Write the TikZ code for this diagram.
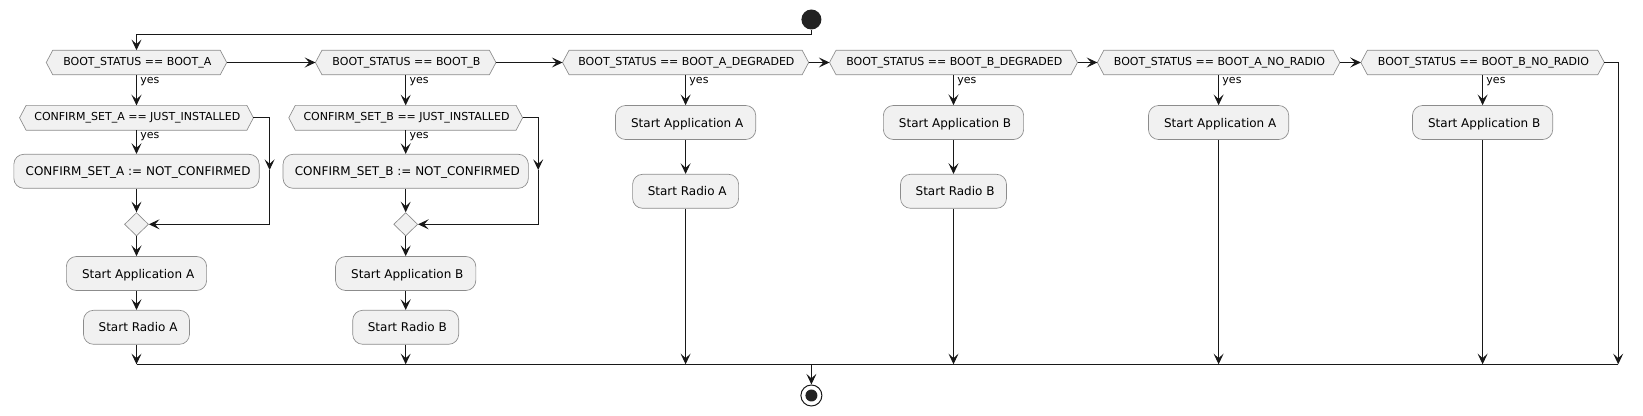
\documentclass[tikz,border=0pt]{standalone}
\usepackage{fontspec}
\setmainfont{DejaVu Sans}
\usetikzlibrary{arrows.meta,shapes.geometric,backgrounds}
\definecolor{boxfill}{HTML}{F1F1F1}
\definecolor{boxdraw}{HTML}{8C8C8C}
\definecolor{linecol}{HTML}{181818}
\definecolor{dotcol}{HTML}{222222}
\newcommand\hexbg[1]{\filldraw[hexbgstyle] (#1.west) -- ([xshift=4.9pt]#1.north west) -- ([xshift=-4.9pt]#1.north east) -- (#1.east) -- ([xshift=-4.9pt]#1.south east) -- ([xshift=4.9pt]#1.south west) -- cycle;}
\tikzset{
  hexnode/.style={rectangle, inner sep=0pt, minimum height=18pt, font=\fontsize{8.25pt}{10pt}\selectfont, execute at begin node={\hspace*{1.2pt}}},
  hexbgstyle/.style={fill=boxfill, draw=boxdraw, line width=0.5pt, line join=miter},
  actbox/.style={rectangle, rounded corners=7.5pt, fill=boxfill, draw=boxdraw, line width=0.5pt, inner sep=0pt, minimum height=25.5pt, text depth=0pt, font=\fontsize{9pt}{11pt}\selectfont, execute at begin node={\hspace*{2.4pt}}},
  mergenode/.style={diamond, fill=boxfill, draw=boxdraw, line width=0.5pt, inner sep=0pt, minimum width=18pt, minimum height=17.5pt},
  flow/.style={draw=linecol, line width=0.75pt, -{Stealth[length=8pt,width=7.5pt,inset=3.4pt]}},
  plainline/.style={draw=linecol, line width=0.75pt},
  yeslab/.style={font=\fontsize{8.25pt}{10pt}\selectfont, anchor=base west, inner sep=0pt},
  startnode/.style={circle, fill=dotcol, inner sep=0pt, minimum size=15pt},
  endnode/.style={circle, draw=linecol, fill=white, line width=0.75pt, inner sep=0pt, minimum size=15.75pt},
  endin/.style={circle, fill=dotcol, inner sep=0pt, minimum size=9pt},
}
\begin{document}
\begin{tikzpicture}[x=0.75pt,y=-0.75pt]
\useasboundingbox (0,0) rectangle (1643,416);

% start
\node[startnode] (start) at (811.4,19.5) {};

% top row of decisions
\node[hexnode, minimum width=135pt] (d1) at (136.5,62.5) {BOOT\_STATUS == BOOT\_A};
\node[hexnode, minimum width=135pt] (d2) at (405.7,62.5) {BOOT\_STATUS == BOOT\_B};
\node[hexnode, minimum width=184.2pt] (d3) at (685.6,62.5) {BOOT\_STATUS == BOOT\_A\_DEGRADED};
\node[hexnode, minimum width=185.6pt] (d4) at (953.5,62.5) {BOOT\_STATUS == BOOT\_B\_DEGRADED};
\node[hexnode, minimum width=181.5pt] (d5) at (1218.6,62.5) {BOOT\_STATUS == BOOT\_A\_NO\_RADIO};
\node[hexnode, minimum width=182.2pt] (d6) at (1482.6,62.5) {BOOT\_STATUS == BOOT\_B\_NO\_RADIO};

% column 1
\node[hexnode, minimum width=175pt, minimum height=18.2pt] (cA) at (136.5,117.8) {CONFIRM\_SET\_A == JUST\_INSTALLED};
\node[actbox, minimum width=184pt] (sA) at (136.5,171.3) {CONFIRM\_SET\_A := NOT\_CONFIRMED};
\node[mergenode] (mA) at (136.5,224.3) {};
\node[actbox, minimum width=105.2pt] (app1) at (136.5,273.5) {Start Application A};
\node[actbox, minimum width=79.5pt] (rad1) at (136.5,327.3) {Start Radio A};

% column 2
\node[hexnode, minimum width=175pt, minimum height=18.2pt] (cB) at (405.7,117.8) {CONFIRM\_SET\_B == JUST\_INSTALLED};
\node[actbox, minimum width=184pt] (sB) at (405.7,171.3) {CONFIRM\_SET\_B := NOT\_CONFIRMED};
\node[mergenode] (mB) at (405.7,224.3) {};
\node[actbox, minimum width=105.2pt] (app2) at (405.7,273.5) {Start Application B};
\node[actbox, minimum width=79.5pt] (rad2) at (405.7,327.3) {Start Radio B};

% column 3
\node[actbox, minimum width=105.2pt] (app3) at (685.6,122.5) {Start Application A};
\node[actbox, minimum width=79.5pt] (rad3) at (685.6,191.3) {Start Radio A};

% column 4
\node[actbox, minimum width=105.2pt] (app4) at (953.5,122.5) {Start Application B};
\node[actbox, minimum width=79.5pt] (rad4) at (953.5,191.3) {Start Radio B};

% column 5, 6
\node[actbox, minimum width=105.2pt] (app5) at (1218.6,122.5) {Start Application A};
\node[actbox, minimum width=105.2pt] (app6) at (1482.6,122.5) {Start Application B};

% end
\node[endnode] (end) at (811.4,395.5) {};
\node[endin] (endc) at (end.center) {};

% hexagon outlines
\begin{scope}[on background layer]
\hexbg{d1}\hexbg{d2}\hexbg{d3}\hexbg{d4}\hexbg{d5}\hexbg{d6}\hexbg{cA}\hexbg{cB}
\end{scope}

% coordinates
\coordinate (topL) at (136.5,35);
\coordinate (rt) at (1618.2,62.5);
\coordinate (rb) at (1618.2,364.3);
\coordinate (b1) at (136.5,364.3);
\coordinate (b2) at (405.7,364.3);
\coordinate (b3) at (685.6,364.3);
\coordinate (b4) at (953.5,364.3);
\coordinate (b5) at (1218.6,364.3);
\coordinate (b6) at (1482.6,364.3);
\coordinate (bm) at (811.4,364.3);
\coordinate (cAr) at (269.6,170);
\coordinate (cBr) at (538.2,170);

% start to first decision
\draw[flow] (start.south) |- (topL) -- (d1.north);

% chain of decisions
\draw[flow] (d1.east) -- (d2.west);
\draw[flow] (d2.east) -- (d3.west);
\draw[flow] (d3.east) -- (d4.west);
\draw[flow] (d4.east) -- (d5.west);
\draw[flow] (d5.east) -- (d6.west);
\draw[flow] (d6.east) -- (rt) -- (rb);

% column 1
\draw[flow] (d1.south) -- (cA.north);
\node[yeslab] (y1) at (140.1,83.5) {yes};
\draw[flow] (cA.south) -- (sA.north);
\node[yeslab] (y1b) at (140.1,138.8) {yes};
\draw[flow] (sA.south) -- (mA.north);
\draw[flow] (cA.east) -| (cAr);
\draw[flow] (cAr) |- (mA.east);
\draw[flow] (mA.south) -- (app1.north);
\draw[flow] (app1.south) -- (rad1.north);
\draw[flow] (rad1.south) -- (b1);

% column 2
\draw[flow] (d2.south) -- (cB.north);
\node[yeslab] (y2) at (409.3,83.5) {yes};
\draw[flow] (cB.south) -- (sB.north);
\node[yeslab] (y2b) at (409.3,138.8) {yes};
\draw[flow] (sB.south) -- (mB.north);
\draw[flow] (cB.east) -| (cBr);
\draw[flow] (cBr) |- (mB.east);
\draw[flow] (mB.south) -- (app2.north);
\draw[flow] (app2.south) -- (rad2.north);
\draw[flow] (rad2.south) -- (b2);

% column 3
\draw[flow] (d3.south) -- (app3.north);
\node[yeslab] (y3) at (689.2,83.5) {yes};
\draw[flow] (app3.south) -- (rad3.north);
\draw[flow] (rad3.south) -- (b3);

% column 4
\draw[flow] (d4.south) -- (app4.north);
\node[yeslab] (y4) at (957.1,83.5) {yes};
\draw[flow] (app4.south) -- (rad4.north);
\draw[flow] (rad4.south) -- (b4);

% column 5
\draw[flow] (d5.south) -- (app5.north);
\node[yeslab] (y5) at (1222.2,83.5) {yes};
\draw[flow] (app5.south) -- (b5);

% column 6
\draw[flow] (d6.south) -- (app6.north);
\node[yeslab] (y6) at (1486.2,83.5) {yes};
\draw[flow] (app6.south) -- (b6);

% merge line and end
\draw[plainline] (b1) -- (rb);
\draw[flow] (bm) -- (end.north);
\end{tikzpicture}
\end{document}
